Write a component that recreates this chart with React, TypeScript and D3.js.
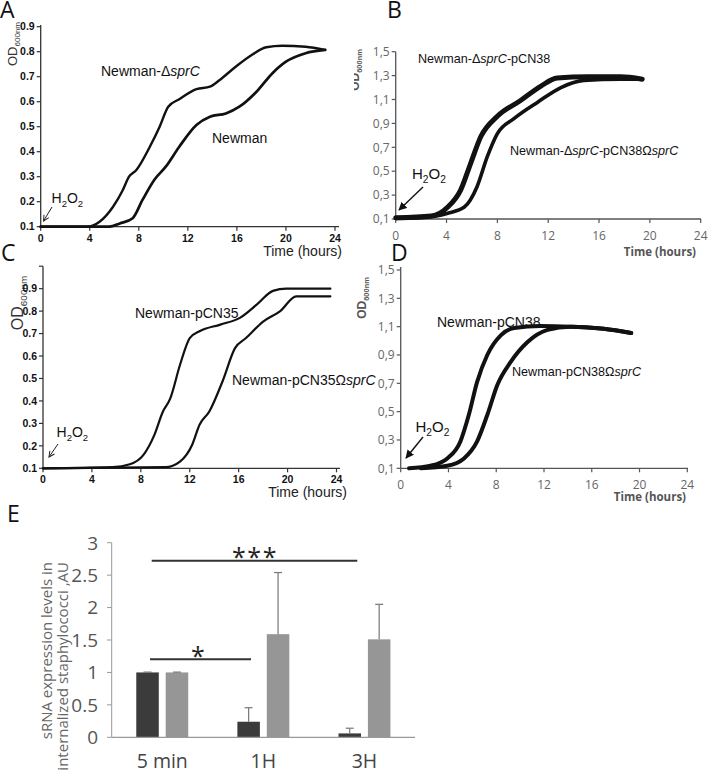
import React from "react";
import * as d3 from "d3";

// ---------- DATA ----------
const hourTicks = [0, 4, 8, 12, 16, 20, 24];

// Panel A
const aYTicks = [0.1, 0.2, 0.3, 0.4, 0.5, 0.6, 0.7, 0.8, 0.9];
const aDeltaTime = [0, 3.8, 4.8, 5.9, 6.7, 7.2, 7.8, 8.9, 9.7, 10.4, 11.3, 12.7, 13.8, 14.6, 15.9, 17.3, 18.4, 19.7, 21.6, 23.2];
const aDeltaOD = [0.1, 0.1, 0.12, 0.18, 0.247, 0.3, 0.327, 0.42, 0.5, 0.58, 0.61, 0.65, 0.66, 0.687, 0.74, 0.79, 0.818, 0.824, 0.82, 0.807];
const aNewmanTime = [0, 5.6, 6.45, 7.5, 8.3, 9.3, 10.2, 11.3, 12.7, 13.8, 15.1, 16.2, 17.6, 18.9, 20.0, 21.6, 23.2];
const aNewmanOD = [0.1, 0.1, 0.113, 0.134, 0.207, 0.29, 0.34, 0.42, 0.507, 0.54, 0.553, 0.58, 0.64, 0.714, 0.76, 0.794, 0.807];

// Panel B
const bYTicks = [0.1, 0.3, 0.5, 0.7, 0.9, 1.1, 1.3, 1.5];
const bDeltaTime = [0, 2.8, 4.1, 5.1, 5.9, 6.7, 8.0, 9.8, 11.4, 12.7, 15.1, 17.7, 19.4];
const bDeltaOD = [0.11, 0.125, 0.2, 0.34, 0.566, 0.79, 0.96, 1.09, 1.21, 1.28, 1.29, 1.29, 1.27];
const bCompTime = [0, 2.0, 4.1, 5.4, 6.4, 7.2, 8.0, 9.3, 11.2, 13.0, 14.8, 17.7, 19.4];
const bCompOD = [0.105, 0.111, 0.148, 0.2, 0.37, 0.62, 0.815, 0.94, 1.08, 1.2, 1.26, 1.27, 1.27];

// Panel C
const cYTicks = [0.1, 0.2, 0.3, 0.4, 0.5, 0.6, 0.7, 0.8, 0.9, 1.0];
const cYLabels = ["0.1", "0.2", "0.3", "0.4", "0.5", "0.6", "0.7", "0.8", "0.9", ""];
const cPcnTime = [0, 5.7, 7.1, 8.2, 9.1, 9.8, 10.4, 11.2, 12.0, 12.8, 14.5, 16.1, 17.5, 18.8, 19.9, 23.5];
const cPcnOD = [0.1, 0.105, 0.118, 0.159, 0.248, 0.352, 0.41, 0.56, 0.68, 0.71, 0.74, 0.77, 0.83, 0.89, 0.9, 0.9];
const cSprTime = [0, 10.0, 11.2, 12.2, 12.8, 13.6, 14.7, 15.7, 16.6, 18.0, 19.4, 20.7, 23.5];
const cSprOD = [0.1, 0.105, 0.13, 0.205, 0.294, 0.353, 0.49, 0.635, 0.68, 0.753, 0.8, 0.866, 0.866];

// Panel D
const dYTicks = [0.1, 0.3, 0.5, 0.7, 0.9, 1.1, 1.3, 1.5];
const dPcnTime = [0.7, 2.5, 3.9, 5.0, 5.7, 6.4, 7.25, 8.4, 9.5, 11.7, 14.2, 17.0, 19.3];
const dPcnOD = [0.1, 0.118, 0.17, 0.29, 0.476, 0.71, 0.9, 1.04, 1.09, 1.105, 1.1, 1.085, 1.055];
const dSprTime = [1.7, 3.9, 5.3, 6.4, 7.25, 8.1, 9.2, 10.6, 12.3, 14.2, 17.0, 19.3];
const dSprOD = [0.1, 0.118, 0.17, 0.29, 0.476, 0.69, 0.85, 0.99, 1.077, 1.1, 1.085, 1.055];

// Panel E
const eCategories = ["5 min", "1H", "3H"];
const eSeries = ["dark", "light"];
const eDark = [1.0, 0.24, 0.06];
const eDarkErr = [0.005, 0.216, 0.08];
const eLight = [1.0, 1.59, 1.51];
const eLightErr = [0.005, 0.95, 0.54];
const eYTicks = [0, 0.5, 1, 1.5, 2, 2.5, 3];

// ---------- STYLE ----------
const ARIAL = "'Liberation Sans', Arial, sans-serif";
const OPEN = "'Open Sans', 'Noto Sans', sans-serif";

const zip = (t: number[], v: number[]) => t.map((d, i) => [d, v[i]] as [number, number]);

function H2O2({ x, y, size }: { x: number; y: number; size: number }) {
  return (
    <text x={x} y={y} fontFamily={ARIAL} fontSize={size} fill="#111">
      H<tspan fontSize={size * 0.68} dy={size * 0.28}>2</tspan>
      <tspan dy={-size * 0.28}>O</tspan>
      <tspan fontSize={size * 0.68} dy={size * 0.28}>2</tspan>
    </text>
  );
}

function ODLabel({ x, y, size, bold, color }: { x: number; y: number; size: number; bold?: boolean; color: string }) {
  return (
    <text transform={`translate(${x},${y}) rotate(-90)`} textAnchor="middle" fontFamily={ARIAL}
      fontSize={size} fontWeight={bold ? "bold" : "normal"} fill={color}>
      OD<tspan fontSize={size * 0.62} dy={size * 0.25}>600nm</tspan>
    </text>
  );
}

type Curve = { data: [number, number][]; width: number };

function GrowthAxes(props: {
  x: d3.ScaleLinear<number, number>;
  y: d3.ScaleLinear<number, number>;
  yTicks: number[];
  yLabels: string[];
  kind: "bold" | "gray";
  xLabelY: number;
  xAxisEnd: number;
  yAxisTop: number;
  curves: Curve[];
}) {
  const { x, y, yTicks, yLabels, kind, xLabelY, xAxisEnd, yAxisTop, curves } = props;
  const axisColor = kind === "bold" ? "#333" : "#555";
  const labelColor = kind === "bold" ? "#111" : "#666";
  const fw = kind === "bold" ? "bold" : "normal";
  const fs = kind === "bold" ? 10.5 : 12;
  const ff = kind === "bold" ? ARIAL : OPEN;
  const x0 = x(0);
  const y0 = y(y.domain()[0]);
  const line = d3.line<[number, number]>().x((d) => x(d[0])).y((d) => y(d[1])).curve(d3.curveMonotoneX);
  return (
    <g>
      <line x1={x0} x2={x0} y1={yAxisTop} y2={y0} stroke={axisColor} strokeWidth={1.3} />
      <line x1={x0} x2={xAxisEnd} y1={y0} y2={y0} stroke={axisColor} strokeWidth={1.3} />
      {yTicks.map((t, i) => (
        <g key={"y" + i}>
          <line x1={x0 - 4} x2={x0} y1={y(t)} y2={y(t)} stroke={axisColor} strokeWidth={1.2} />
          <text x={x0 - 6} y={y(t)} dy="0.35em" textAnchor="end" fontFamily={ff} fontSize={fs}
            fontWeight={fw} fill={labelColor}>{yLabels[i]}</text>
        </g>
      ))}
      {hourTicks.map((t) => (
        <g key={"x" + t}>
          <line x1={x(t)} x2={x(t)} y1={y0} y2={y0 + 4} stroke={axisColor} strokeWidth={1.2} />
          <text x={x(t)} y={xLabelY} textAnchor="middle" fontFamily={ff} fontSize={fs}
            fontWeight={fw} fill={labelColor}>{t}</text>
        </g>
      ))}
      {curves.map((c, i) => (
        <path key={"c" + i} d={line(c.data) || ""} fill="none" stroke="#111" strokeWidth={c.width}
          strokeLinecap="round" strokeLinejoin="round" />
      ))}
    </g>
  );
}

export default function App() {
  // Scales for growth panels
  const ax = d3.scaleLinear().domain([0, 24]).range([40.7, 335]);
  const ay = d3.scaleLinear().domain([0.1, 0.9]).range([226.7, 26.7]);
  const bx = d3.scaleLinear().domain([0, 24]).range([395.7, 700.7]);
  const by = d3.scaleLinear().domain([0.1, 1.5]).range([219, 51.7]);
  const cx = d3.scaleLinear().domain([0, 24]).range([43, 336.5]);
  const cy = d3.scaleLinear().domain([0.1, 1.0]).range([468.3, 266.2]);
  const dx = d3.scaleLinear().domain([0, 24]).range([400.7, 687.3]);
  const dy = d3.scaleLinear().domain([0.1, 1.5]).range([468.3, 270]);

  const fmt1 = d3.format(".1f");
  const comma = (v: number) => fmt1(v).replace(".", ",");

  // Panel E scales
  const ex = d3.scaleBand<string>().domain(eCategories).range([111.7, 415]).paddingInner(0).paddingOuter(0);
  const exs = d3.scaleBand<string>().domain(eSeries).range([0, ex.bandwidth()]).paddingInner(0.235).paddingOuter(0.835);
  const ey = d3.scaleLinear().domain([0, 3]).range([737.3, 542.7]);
  const eVals = [eDark, eLight];
  const eErrs = [eDarkErr, eLightErr];
  const eColors = ["#3b3b3b", "#969696"];

  return (
    <svg width={708} height={773} style={{ position: "absolute", left: 0, top: 0, background: "#fff" }}>
      <defs>
        <marker id="openArrow" viewBox="0 0 10 10" refX="9" refY="5" markerWidth="7" markerHeight="7" orient="auto">
          <path d="M1,1 L9,5 L1,9" fill="none" stroke="#222" strokeWidth="1.4" />
        </marker>
        <marker id="fillArrow" viewBox="0 0 10 10" refX="9" refY="5" markerWidth="6" markerHeight="6" orient="auto">
          <path d="M0,0 L10,5 L0,10 z" fill="#111" />
        </marker>
        <clipPath id="rightHalf"><rect x={354} y={0} width={354} height={773} /></clipPath>
      </defs>
      <rect x={0} y={0} width={708} height={773} fill="#fff" />

      {/* ---------- Panel A ---------- */}
      <text x={0} y={18} fontFamily={OPEN} fontSize={23} fill="#111">A</text>
      <ODLabel x={17} y={44} size={13} color="#333" />
      <GrowthAxes x={ax} y={ay} yTicks={aYTicks} yLabels={aYTicks.map(fmt1)} kind="bold" xLabelY={241.5}
        xAxisEnd={339} yAxisTop={25} curves={[
          { data: zip(aDeltaTime, aDeltaOD), width: 2.4 },
          { data: zip(aNewmanTime, aNewmanOD), width: 2.7 },
        ]} />
      <text x={101} y={76} fontFamily={ARIAL} fontSize={14} fill="#111">Newman-Δ<tspan fontStyle="italic">sprC</tspan></text>
      <text x={212} y={143} fontFamily={ARIAL} fontSize={14} fill="#111">Newman</text>
      <H2O2 x={51.5} y={203} size={14} />
      <line x1={52} y1={207} x2={43.5} y2={221} stroke="#222" strokeWidth={1} markerEnd="url(#openArrow)" />
      <text x={342} y={255.5} textAnchor="end" fontFamily={ARIAL} fontSize={14} fill="#222">Time (hours)</text>

      {/* ---------- Panel B ---------- */}
      <text x={387} y={18} fontFamily={OPEN} fontSize={23} fill="#111">B</text>
      <g clipPath="url(#rightHalf)">
        <ODLabel x={358.5} y={70} size={12} bold color="#555" />
      </g>
      <GrowthAxes x={bx} y={by} yTicks={bYTicks} yLabels={bYTicks.map(comma)} kind="gray" xLabelY={240}
        xAxisEnd={701} yAxisTop={51.7} curves={[
          { data: zip(bDeltaTime, bDeltaOD), width: 5 },
          { data: zip(bCompTime, bCompOD), width: 3.6 },
        ]} />
      <text x={418} y={63} fontFamily={ARIAL} fontSize={12.6} fill="#111">Newman-Δ<tspan fontStyle="italic">sprC</tspan>-pCN38</text>
      <text x={510} y={155} fontFamily={ARIAL} fontSize={12.6} fill="#111">Newman-Δ<tspan fontStyle="italic">sprC</tspan>-pCN38Ω<tspan fontStyle="italic">sprC</tspan></text>
      <H2O2 x={412} y={179} size={15} />
      <line x1={423} y1={187} x2={399} y2={210} stroke="#111" strokeWidth={1.4} markerEnd="url(#fillArrow)" />
      <text x={696} y={256} textAnchor="end" fontFamily={OPEN} fontWeight="bold" fontSize={11.5} fill="#555">Time (hours)</text>

      {/* ---------- Panel C ---------- */}
      <text x={1} y={261} fontFamily={OPEN} fontSize={23} fill="#111">C</text>
      <ODLabel x={23} y={303} size={16} color="#333" />
      <GrowthAxes x={cx} y={cy} yTicks={cYTicks} yLabels={cYLabels} kind="bold" xLabelY={483}
        xAxisEnd={340} yAxisTop={266.2} curves={[
          { data: zip(cPcnTime, cPcnOD), width: 2.2 },
          { data: zip(cSprTime, cSprOD), width: 2.2 },
        ]} />
      <text x={135} y={318} fontFamily={ARIAL} fontSize={14} fill="#111">Newman-pCN35</text>
      <text x={232} y={385} fontFamily={ARIAL} fontSize={14} fill="#111">Newman-pCN35Ω<tspan fontStyle="italic">sprC</tspan></text>
      <H2O2 x={56.5} y={437} size={14} />
      <line x1={58} y1={444} x2={49} y2={457} stroke="#222" strokeWidth={1} markerEnd="url(#openArrow)" />
      <text x={347} y={497} textAnchor="end" fontFamily={ARIAL} fontSize={14} fill="#222">Time (hours)</text>

      {/* ---------- Panel D ---------- */}
      <text x={391} y={261} fontFamily={OPEN} fontSize={23} fill="#111">D</text>
      <ODLabel x={366} y={298} size={12} bold color="#555" />
      <GrowthAxes x={dx} y={dy} yTicks={dYTicks} yLabels={dYTicks.map(comma)} kind="gray" xLabelY={489}
        xAxisEnd={688} yAxisTop={267} curves={[
          { data: zip(dPcnTime, dPcnOD), width: 4 },
          { data: zip(dSprTime, dSprOD), width: 4 },
        ]} />
      <text x={437} y={327} fontFamily={ARIAL} fontSize={14} fill="#111">Newman-pCN38</text>
      <text x={512} y={376} fontFamily={ARIAL} fontSize={12.6} fill="#111">Newman-pCN38Ω<tspan fontStyle="italic">sprC</tspan></text>
      <H2O2 x={415.5} y={432} size={15} />
      <line x1={423} y1={437} x2={406} y2={458} stroke="#111" strokeWidth={1.4} markerEnd="url(#fillArrow)" />
      <text x={686} y={501} textAnchor="end" fontFamily={OPEN} fontWeight="bold" fontSize={11.5} fill="#555">Time (hours)</text>

      {/* ---------- Panel E ---------- */}
      <text x={7} y={522} fontFamily={OPEN} fontSize={23} fill="#111">E</text>
      <text transform="translate(52,562) rotate(-90)" textAnchor="end" fontFamily={OPEN} fontSize={15} fill="#666">sRNA expression levels in</text>
      <text transform="translate(68,562) rotate(-90)" textAnchor="end" fontFamily={OPEN} fontSize={15} fill="#666">internalized staphylococci ,AU</text>
      <line x1={111.7} x2={111.7} y1={ey(3)} y2={ey(0)} stroke="#999" strokeWidth={1} />
      {eYTicks.map((t) => (
        <g key={"ey" + t}>
          <line x1={107} x2={111.7} y1={ey(t)} y2={ey(t)} stroke="#999" strokeWidth={1} />
          <text x={98} y={ey(t)} dy="0.36em" textAnchor="end" fontFamily={OPEN} fontSize={19} fill="#555">{String(t)}</text>
        </g>
      ))}
      {eCategories.map((c, ci) => (
        <g key={c}>
          {eSeries.map((s, si) => {
            const bx0 = (ex(c) || 0) + (exs(s) || 0);
            const v = eVals[si][ci];
            const e = eErrs[si][ci];
            const mid = bx0 + exs.bandwidth() / 2;
            return (
              <g key={s}>
                <rect x={bx0} y={ey(v)} width={exs.bandwidth()} height={ey(0) - ey(v)} fill={eColors[si]} />
                <line x1={mid} x2={mid} y1={ey(v)} y2={ey(v + e)} stroke="#777" strokeWidth={1.2} />
                <line x1={mid - 4} x2={mid + 4} y1={ey(v + e)} y2={ey(v + e)} stroke="#777" strokeWidth={1.2} />
              </g>
            );
          })}
          <text x={(ex(c) || 0) + ex.bandwidth() / 2} y={768} textAnchor="middle" fontFamily={OPEN} fontSize={19.5} fill="#444">{c}</text>
        </g>
      ))}
      <line x1={111.7} x2={415} y1={ey(0)} y2={ey(0)} stroke="#999" strokeWidth={1.3} />
      {/* significance bars */}
      <line x1={151.7} x2={357.3} y1={560.7} y2={560.7} stroke="#333" strokeWidth={2} />
      <text x={255} y={566} textAnchor="middle" fontFamily={OPEN} fontSize={25} letterSpacing={1.5} fill="#222">***</text>
      <line x1={150} x2={251} y1={659.3} y2={659.3} stroke="#333" strokeWidth={2} />
      <text x={198} y={665} textAnchor="middle" fontFamily={OPEN} fontSize={25} fill="#222">*</text>
    </svg>
  );
}
